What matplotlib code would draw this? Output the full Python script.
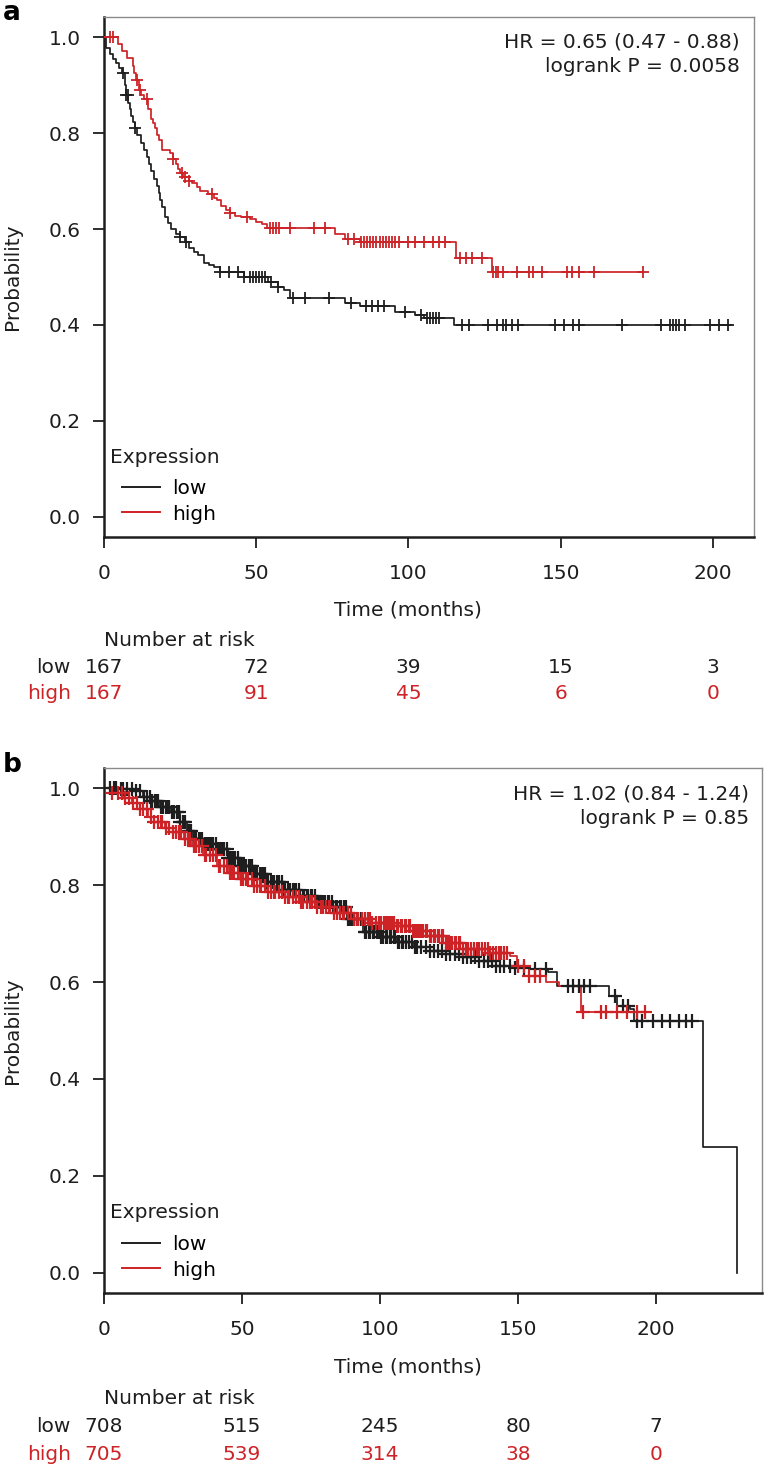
import numpy as np
import matplotlib
matplotlib.use('Agg')
import matplotlib.pyplot as plt
from matplotlib import transforms
from matplotlib.lines import Line2D

# ---------------- data ----------------
x_ticks = [0, 50, 100, 150, 200]
y_ticks = [0.0, 0.2, 0.4, 0.6, 0.8, 1.0]
groups = ["low", "high"]

# Panel a
a_low_t = [0, 0.5, 2, 3, 4, 5, 6, 6.8, 7.2, 8, 8.5, 9, 9.6, 10.2, 11, 12, 13, 14, 14.8, 15.5, 16.5,
           17.4, 18, 18.5, 19.2, 20, 21, 22, 23.5, 25, 26.5, 28, 29.5, 31, 33, 34.5, 36, 38, 46,
           54, 57, 59, 61, 79, 84, 95.6, 102, 105, 115]
a_low_s = [1.0, 0.977, 0.965, 0.955, 0.945, 0.935, 0.925, 0.9, 0.88, 0.862, 0.85, 0.835, 0.822,
           0.81, 0.795, 0.78, 0.765, 0.75, 0.735, 0.72, 0.705, 0.69, 0.675, 0.66, 0.645, 0.625,
           0.612, 0.60, 0.59, 0.583, 0.572, 0.56, 0.552, 0.545, 0.53, 0.525, 0.52, 0.51, 0.50,
           0.49, 0.48, 0.473, 0.456, 0.446, 0.44, 0.427, 0.42, 0.414, 0.40]
a_low_end = 206
a_low_cens = [6.2, 7.2, 7.9, 10.2, 25, 27, 38, 41, 44, 46, 48, 49, 50, 51, 52, 53, 55, 57, 62, 66,
              74, 81, 86, 88, 90, 92, 99, 104, 106, 107, 108, 109, 110, 117.6, 120, 126, 129, 131,
              132, 134, 136, 148, 151, 154, 156, 170, 183, 186, 187, 188, 189, 191, 199, 202, 205]

a_high_t = [0, 4.5, 6, 7.5, 9.5, 10, 10.5, 11.5, 12.2, 13, 14.5, 15.5, 16.2, 16.7, 17.4, 18, 19,
            21.7, 22.5, 23.5, 24.3, 25, 26, 28, 29, 30.5, 31.5, 34, 36, 37, 38.5, 40, 41.4, 43, 45,
            48, 50, 52, 53.5, 76, 79, 84, 115.6, 127.5]
a_high_s = [1.0, 0.985, 0.97, 0.956, 0.94, 0.925, 0.91, 0.89, 0.88, 0.87, 0.85, 0.83, 0.82, 0.81,
            0.795, 0.785, 0.765, 0.758, 0.745, 0.735, 0.725, 0.716, 0.708, 0.70, 0.695, 0.688,
            0.68, 0.672, 0.665, 0.66, 0.648, 0.64, 0.633, 0.628, 0.625, 0.62, 0.615, 0.61, 0.603,
            0.59, 0.58, 0.573, 0.54, 0.51]
a_high_end = 177
a_high_cens = [2, 3, 11, 11.8, 14, 22.7, 25.6, 26.5, 28, 35.4, 41.4, 47, 54.5, 55.5, 56.5, 57.5, 61,
               69, 72.6, 80, 82, 84.5, 85.5, 86.5, 87.5, 88.5, 89.5, 90.5, 91.5, 92.5, 93.5, 94.5,
               95.5, 97, 100, 102, 105, 108, 110, 112, 117, 119, 121, 124, 127.8, 128.6, 129.5, 131,
               135.6, 139.6, 141, 143.8, 152, 153.7, 156, 161, 177]
a_risk_low = [167, 72, 39, 15, 3]
a_risk_high = [167, 91, 45, 6, 0]
a_hr = ["HR = 0.65 (0.47 - 0.88)", "logrank P = 0.0058"]

# Panel b
b_low_t = [0, 5, 10.5, 14, 16.7, 20, 24, 27.5, 30, 32, 36, 41, 45, 49, 54, 59, 65, 71, 77, 83, 88,
           94, 100, 106, 112, 118, 124, 130, 136, 142, 148, 154, 161, 164, 183, 186, 190.6, 192,
           217, 229.5]
b_low_s = [1.0, 0.998, 0.994, 0.982, 0.973, 0.962, 0.95, 0.93, 0.912, 0.895, 0.885, 0.874, 0.857,
           0.84, 0.822, 0.806, 0.79, 0.777, 0.766, 0.755, 0.73, 0.703, 0.692, 0.682, 0.673, 0.664,
           0.658, 0.652, 0.643, 0.633, 0.629, 0.627, 0.62, 0.592, 0.571, 0.55, 0.544, 0.52, 0.26, 0.0]
b_low_end = 229.5
b_low_cens = [2, 3.5, 4.5, 6, 7, 8.5, 10, 11.5, 13, 14.5, 15.5, 16.5, 17, 17.5, 18.5, 19, 19.5, 20.5,
              21, 21.5, 22.5, 23, 23.5, 24.5, 25, 25.5, 26.5, 27, 27.5, 28.5, 29, 29.5, 30.5, 31,
              31.5, 32.5, 33, 33.5, 34.5, 35, 35.5, 36.5, 37, 37.5, 38.5, 39, 39.5, 40.5, 41, 41.5,
              42.5, 43, 43.5, 44.5, 45, 45.5, 46.5, 47, 47.5, 48.5, 49, 49.5, 50.5, 51, 51.5, 52.5,
              53, 53.5, 54.5, 55, 55.5, 56.5, 57, 57.5, 58.5, 59, 59.5, 60.5, 61, 61.5, 62.5, 63,
              63.5, 64.5, 65, 65.5, 66.5, 67, 67.5, 68.5, 69, 69.5, 70.5, 71, 72, 72.5, 73.5, 74,
              75, 75.5, 76.5, 77, 78, 78.5, 79.5, 80, 81, 81.5, 82.5, 83, 84, 84.5, 85.5, 86, 87,
              87.5, 88.5, 89, 90, 90.5, 91.5, 92, 93, 93.5, 94.5, 95, 96, 96.5, 97.5, 98, 99, 99.5,
              100.5, 101, 102, 102.5, 103.5, 104, 105, 105.5, 106.5, 107, 108, 108.5, 109.5, 110.5,
              111.5, 112.5, 113.5, 115, 116.5, 118, 119.5, 121, 122.5, 124, 125.5, 127, 128.5,
              130, 131.5, 133, 134.5, 136, 137.5, 139, 140.5, 142, 143.5, 145, 147, 149, 152, 156,
              160, 168, 170, 172, 174, 176, 185, 188, 190, 193, 195, 199, 202, 205, 208.5, 211, 213]

b_high_t = [0, 3, 7, 10, 13, 16, 18, 22, 25, 29, 32, 36, 41, 45, 49, 54, 59, 65, 71, 77, 83, 90,
            97, 106, 112, 118, 124, 130, 140, 147, 149.5, 154, 160, 165, 173]
b_high_s = [1.0, 0.99, 0.98, 0.97, 0.957, 0.94, 0.93, 0.918, 0.909, 0.895, 0.88, 0.862, 0.84,
            0.826, 0.812, 0.798, 0.786, 0.775, 0.765, 0.755, 0.743, 0.73, 0.722, 0.716, 0.706,
            0.695, 0.68, 0.668, 0.66, 0.654, 0.633, 0.612, 0.6, 0.592, 0.538]
b_high_end = 196
b_high_cens = [3, 5, 6.5, 7.5, 9, 10.5, 12, 13, 14, 15.5, 17, 18, 19.5, 20.5, 21, 22.5, 23.5, 25,
               26, 27, 28, 29.5, 30.5, 31, 32.5, 33.5, 34.5, 35.5, 36.5, 37, 38.5, 39.5, 40.5, 41.5,
               42, 43.5, 44.5, 45.5, 46.5, 47, 48.5, 49.5, 50.5, 51.5, 52, 53.5, 54.5, 55.5, 56.5,
               57, 58.5, 59.5, 60.5, 61.5, 62, 63.5, 64.5, 65.5, 66.5, 67, 68.5, 69.5, 70.5, 71.5,
               72, 73.5, 74.5, 75.5, 76.5, 77, 78.5, 79.5, 80.5, 81.5, 82, 83.5, 84.5, 85.5, 86.5,
               87, 88.5, 89.5, 90.5, 91.5, 92, 93.5, 94.5, 95.5, 96.5, 97, 98.5, 99.5, 100, 100.5,
               101.5, 102, 103, 103.5, 104.5, 105, 106, 106.5, 107.5, 108, 109, 109.5, 110.5, 111,
               112, 112.5, 113.5, 114, 115, 115.5, 116.5, 117, 118, 118.5, 119.5, 120, 121, 121.5,
               122.5, 123, 124, 124.5, 125.5, 126, 127, 127.5, 128.5, 129, 130, 131, 132, 133, 134,
               135, 136, 137, 138, 139, 140, 141, 142, 143, 144, 145, 146, 150, 152, 154, 156, 158,
               173.5, 180, 182, 186, 189.5, 193, 196]
b_risk_low = [708, 515, 245, 80, 7]
b_risk_high = [705, 539, 314, 38, 0]
b_hr = ["HR = 1.02 (0.84 - 1.24)", "logrank P = 0.85"]

# ---------------- style ----------------
W, H = 768, 1471
plt.rcParams['font.family'] = ['DejaVu Sans']
FS = 14.5
BLACK = '#1e1e1e'
RED = '#cd2327'
COLS = {"low": BLACK, "high": RED}

fig = plt.figure(figsize=(W / 100, H / 100), dpi=100)


def fx(px):
    return px / W


def fy(py):
    return 1 - py / H


def surv_at(times, surv, c):
    times = np.asarray(times)
    idx = np.searchsorted(times, np.asarray(c), side='right') - 1
    return np.asarray(surv)[idx]


def km(ax, t, s, end, cens, color, ms, mew):
    tt = list(t) + [end]
    ss = list(s) + [s[-1]]
    ax.step(tt, ss, where='post', color=color, lw=1.25, zorder=3)
    ax.plot(cens, surv_at(t, s, cens), linestyle='none', marker='+', ms=ms, mew=mew,
            color=color, zorder=4)


def panel(box, xmax, series, hr, hr_x, hr_y, risk, label, label_y, xlab_y, nar_y, row_y,
          expr_y, leg_low_y, ms, mew):
    left, top, right, bottom = box
    ax = fig.add_axes([fx(left), fy(bottom), fx(right - left), (bottom - top) / H])
    for (t, s, end, cens), g in zip(series, groups):
        km(ax, t, s, end, cens, COLS[g], ms, mew)
    ax.set_xlim(0, xmax)
    ax.set_ylim(-0.0417, 1.0417)
    ax.set_xticks(x_ticks)
    ax.set_yticks(y_ticks)
    ax.set_yticklabels([f"{v:.1f}" for v in y_ticks])
    ax.tick_params(axis='both', direction='out', length=8, width=1.3, labelsize=FS,
                   color=BLACK, labelcolor=BLACK)
    ax.tick_params(axis='x', pad=11.5)
    ax.tick_params(axis='y', pad=8.5)
    for sp in ['top', 'right']:
        ax.spines[sp].set_color('#8a8a8a')
        ax.spines[sp].set_linewidth(1.0)
    for sp in ['left', 'bottom']:
        ax.spines[sp].set_color(BLACK)
        ax.spines[sp].set_linewidth(1.8)

    width_px = right - left
    height_px = bottom - top
    handles = [Line2D([], [], color=COLS[g], lw=1.4) for g in groups]
    ax.legend(handles, groups, loc='lower left',
              bbox_to_anchor=((122 - left) / width_px, (bottom - (leg_low_y + 10.5)) / height_px),
              frameon=False, fontsize=FS, handlelength=1.9, handletextpad=0.6,
              labelspacing=0.3, borderaxespad=0.0, borderpad=0.0)
    fig.text(fx(110), fy(expr_y), "Expression", ha='left', va='center', fontsize=FS,
             color=BLACK)

    for i, line in enumerate(hr):
        fig.text(fx(hr_x), fy(hr_y + i * 25), line, ha='right', va='center',
                 fontsize=FS, color=BLACK)

    fig.text(fx(13), fy((top + bottom) / 2), "Probability", rotation=90,
             ha='center', va='center', fontsize=FS, color=BLACK)
    fig.text(fx(408), fy(xlab_y), "Time (months)", ha='center', va='center',
             fontsize=FS, color=BLACK)
    fig.text(fx(104), fy(nar_y), "Number at risk", ha='left', va='center',
             fontsize=FS, color=BLACK)
    trans = transforms.blended_transform_factory(ax.transData, fig.transFigure)
    for g, vals, yy in zip(groups, risk, row_y):
        fig.text(fx(71), fy(yy), g, ha='right', va='center', fontsize=FS, color=COLS[g])
        for xv, v in zip(x_ticks, vals):
            ax.text(xv, fy(yy), str(v), transform=trans, ha='center', va='center',
                    fontsize=FS, color=COLS[g], clip_on=False)
    fig.text(fx(3), fy(label_y), label, ha='left', va='baseline', fontsize=19,
             fontweight='bold', color='black')
    return ax


panel((104, 17, 754, 537), 213.5,
      [(a_low_t, a_low_s, a_low_end, a_low_cens),
       (a_high_t, a_high_s, a_high_end, a_high_cens)],
      a_hr, 740, 42, [a_risk_low, a_risk_high], "a", 20, 610, 640, [667, 693],
      457, 513, 8.5, 1.3)

panel((104, 768, 762, 1293), 238.4,
      [(b_low_t, b_low_s, b_low_end, b_low_cens),
       (b_high_t, b_high_s, b_high_end, b_high_cens)],
      b_hr, 749, 794, [b_risk_low, b_risk_high], "b", 772, 1367, 1398, [1427, 1455],
      1213, 1269, 9.5, 1.6)

fig.savefig('out.png', dpi=100, facecolor='white')
